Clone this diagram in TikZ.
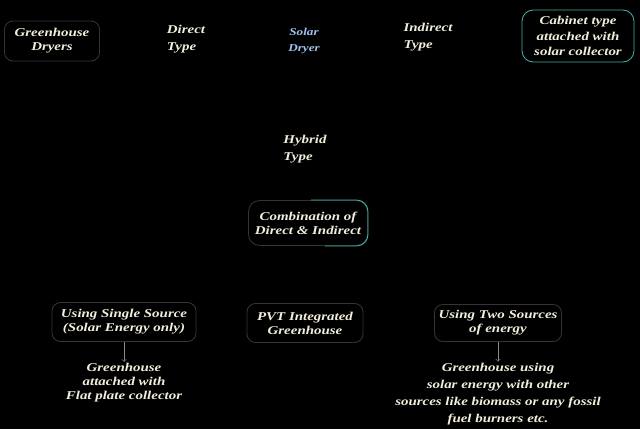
\documentclass[tikz,border=0pt]{standalone}
\usepackage{fontspec}
\setmainfont[FakeStretch=1.25]{Liberation Serif}
\definecolor{txt}{HTML}{F2EEDC}
\definecolor{tealline}{HTML}{3FB3AA}
\definecolor{solarblue}{HTML}{9EC2F0}
\definecolor{dimline}{HTML}{343434}
\definecolor{boxgray}{HTML}{505050}
\definecolor{arrowgray}{HTML}{8A8A8A}

\begin{document}
\begin{tikzpicture}[x=0.025cm, y=-0.025cm,
		lbl/.style={text=txt, font=\fontsize{8.5}{10}\selectfont\bfseries\itshape, align=center, inner sep=1pt},
		wide/.style={font=\fontsize{8.5}{12.5}\selectfont\bfseries\itshape},
		box/.style={lbl, draw=dimline, rounded corners=6pt, semithick, inner sep=0pt}]
		\fill[black] (0,0) rectangle (640,429);
		
		% top row
		\node [box, minimum width=2.375cm, minimum height=1cm] (gd) at (52,41) {Greenhouse\\Dryers};
		\node [lbl, wide, align=left] (direct) at (186,39) {Direct\\Type};
		\node [lbl, text=solarblue, font=\fontsize{7.5}{11.5}\selectfont\bfseries\itshape] (solar) at (304,41) {Solar\\Dryer};
		\node [lbl, wide, align=left] (indirect) at (428,37) {Indirect\\Type};
		\node [box, draw=tealline, minimum width=2.8cm, minimum height=1.3cm, rounded corners=8pt,
			font=\fontsize{8.5}{11}\selectfont\bfseries\itshape] (cabinet) at (578,36) {Cabinet type\\attached with\\solar collector};
		
		% hybrid
		\node [lbl, wide, align=left] (hybrid) at (305,149) {Hybrid\\Type};
		\node [box, minimum width=2.975cm, minimum height=1.125cm, rounded corners=8pt] (combo) at (308,223) {Combination of\\Direct \& Indirect};
		\draw [tealline, semithick, rounded corners=8pt] ([xshift=2]combo.north) -- (combo.north east) -- (combo.south east) -- ([xshift=12]combo.south);
		
		% bottom row
		\begin{scope}[every node/.append style={draw=boxgray, minimum height=0.975cm}]
			\node [box, minimum width=3.6cm] (single) at (124,322) {Using Single Source\\(Solar Energy only)};
			\node [box, minimum width=2.9cm] (pvt) at (305,323) {PVT Integrated\\Greenhouse};
			\node [box, minimum width=3.175cm, minimum height=0.925cm] (two) at (498,323) {Using Two Sources\\of energy};
		\end{scope}
		
		\node [lbl] (flat) at (124,383) {Greenhouse\\attached with\\Flat plate collector};
		\node [lbl, font=\fontsize{8.5}{12}\selectfont\bfseries\itshape] (fossil) at (498,394) {Greenhouse using\\solar energy with other\\sources like biomass or any fossil\\fuel burners etc.};
		
		\begin{scope}[->, arrowgray]
			\draw (single) -- (flat);
			\draw (two) -- (fossil);
		\end{scope}
	\end{tikzpicture}
\end{document}
